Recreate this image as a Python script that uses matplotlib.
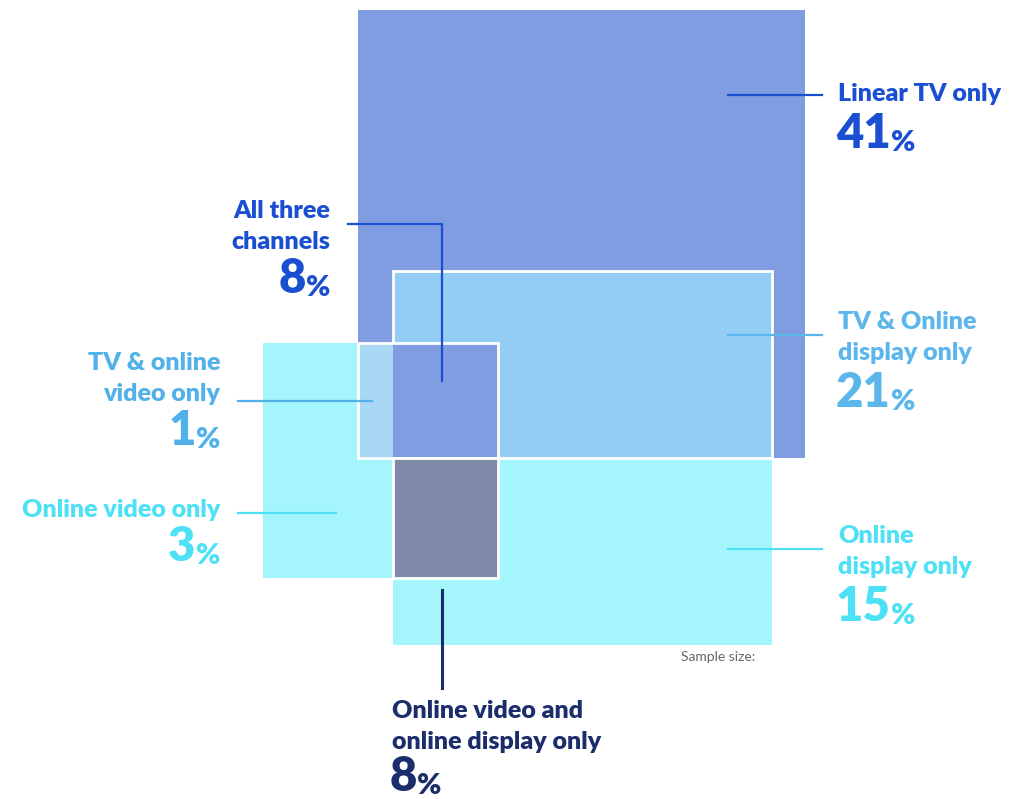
import matplotlib
matplotlib.use("Agg")
import matplotlib.pyplot as plt
from matplotlib.patches import Rectangle

# Segment labels and shares (%)
labels = ["Linear TV only", "All three\nchannels", "TV & Online\ndisplay only",
          "TV & online\nvideo only", "Online video only", "Online\ndisplay only",
          "Online video and\nonline display only"]
values = [41, 8, 21, 1, 3, 15, 8]
text_colors = ["#1b4fd1", "#1b4fd1", "#5bb6ec", "#52b1e8", "#4ee1f6", "#4ee1f6", "#1b2d6b"]

# Region fills
c_tv = "#7f9de0"
c_tv_disp = "#93cdf5"
c_online = "#a4f5fc"
c_tv_video = "#a8d8f3"
c_video_disp = "#7f8aa8"

FONT = "Lato"
LINE_PITCH = 31


def add_label(ax, x, y, text, value, color, ha, num_gap=47):
    # label lines (baseline of first line at y), then big number with small %
    lines = text.split("\n")
    for i, line in enumerate(lines):
        ax.text(x, y + i * LINE_PITCH, line, ha=ha, va="baseline", fontsize=18,
                fontweight="heavy", color=color, family=FONT)
    ny = y + (len(lines) - 1) * LINE_PITCH + num_gap
    if ha == "left":
        num = ax.text(x - 2, ny, str(value), ha="left", va="baseline", fontsize=34,
                      fontweight="heavy", color=color, family=FONT)
        ax.annotate("%", xy=(1, 0), xycoords=num, xytext=(0, 0),
                    textcoords="offset points", ha="left", va="bottom",
                    fontsize=21, fontweight="heavy", color=color, family=FONT)
    else:
        pct = ax.text(x, ny, "%", ha="right", va="baseline", fontsize=21,
                      fontweight="heavy", color=color, family=FONT)
        ax.annotate(str(value), xy=(0, 0), xycoords=pct, xytext=(0, 0),
                    textcoords="offset points", ha="right", va="bottom",
                    fontsize=34, fontweight="heavy", color=color, family=FONT)


def main():
    fig = plt.figure(figsize=(10.28, 7.99), dpi=100)
    ax = fig.add_axes([0, 0, 1, 1])
    ax.set_xlim(0, 1028)
    ax.set_ylim(799, 0)
    ax.axis("off")

    def rect(x0, y0, x1, y1, fc, ec="none", lw=0, z=1):
        ax.add_patch(Rectangle((x0, y0), x1 - x0, y1 - y0, facecolor=fc,
                               edgecolor=ec, linewidth=lw, zorder=z))

    rect(358, 10, 805, 458, c_tv)
    rect(393, 458, 772, 645, c_online)
    rect(263, 343, 498, 578, c_online)
    rect(393, 271, 772, 458, c_tv_disp, "white", 2, 2)
    rect(358, 343, 393, 458, c_tv_video, z=3)
    rect(393, 343, 498, 458, c_tv, z=3)
    rect(358, 343, 498, 458, "none", "white", 2, 4)
    rect(393, 458, 498, 578, c_video_disp, "white", 2, 4)

    # leader lines
    lw = 1.6
    ax.plot([728, 822], [95, 95], color=text_colors[0], lw=lw, zorder=5)
    ax.plot([348, 442, 442], [224, 224, 381], color=text_colors[1], lw=lw, zorder=5)
    ax.plot([728, 822], [335, 335], color=text_colors[2], lw=lw, zorder=5)
    ax.plot([238, 372], [401, 401], color=text_colors[3], lw=lw, zorder=5)
    ax.plot([238, 336], [513, 513], color=text_colors[4], lw=lw, zorder=5)
    ax.plot([728, 822], [549, 549], color=text_colors[5], lw=lw, zorder=5)
    ax.plot([442, 442], [590, 688], color=text_colors[6], lw=2.2, zorder=5)

    add_label(ax, 838, 101, labels[0], values[0], text_colors[0], "left")
    add_label(ax, 330, 218, labels[1], values[1], text_colors[1], "right")
    add_label(ax, 838, 329, labels[2], values[2], text_colors[2], "left")
    add_label(ax, 220, 370, labels[3], values[3], text_colors[3], "right")
    add_label(ax, 220, 517, labels[4], values[4], text_colors[4], "right")
    add_label(ax, 838, 543, labels[5], values[5], text_colors[5], "left")
    add_label(ax, 392, 718, labels[6], values[6], text_colors[6], "left", num_gap=42)

    ax.text(681, 657, "Sample size:", ha="left", va="center", fontsize=10,
            color="#666666", family=FONT)

    fig.savefig("out.png", dpi=100)


if __name__ == "__main__":
    main()
